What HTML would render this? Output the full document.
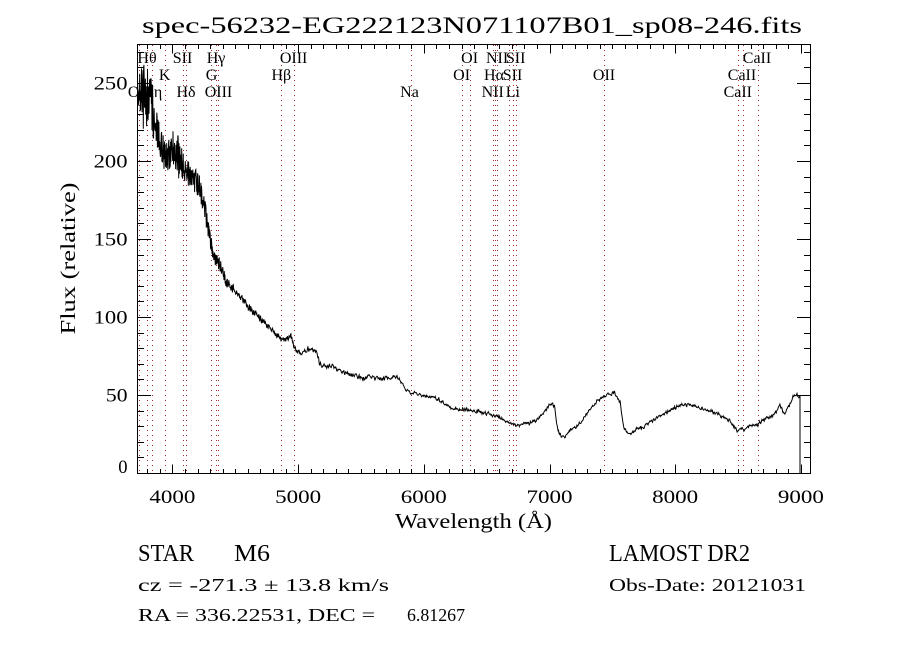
<!DOCTYPE html>
<html>
<head>
<meta charset="utf-8">
<style>
html,body{margin:0;padding:0;background:#fff;}
svg{display:block;}
text{font-family:"Liberation Serif",serif;fill:#000;}
</style>
</head>
<body>
<svg id="s" width="900" height="650" viewBox="0 0 900 650" xmlns="http://www.w3.org/2000/svg">
<defs><clipPath id="pc"><rect x="137" y="44" width="674" height="430"/></clipPath></defs>
<rect width="900" height="650" fill="#fff"/>
<g id="dots" stroke="#a52a2a" stroke-width="1" stroke-dasharray="1 4" shape-rendering="crispEdges"></g>
<g clip-path="url(#pc)"><path id="spec" fill="none" stroke="#000" stroke-width="1" d="M137 97L150 97L162 150L180 168L200 190L214 258L226 282L284 340L294 345L318 352L322 365L400 378L410 392L460 410L515 425L553 405L559 433L571 430L614 393L624 428L630 435L690 404L738 431L762 421L797 395L800 473"/></g>
<g id="ticks" stroke="#000" stroke-width="1" shape-rendering="crispEdges" fill="none"></g>
<rect x="137.5" y="44.5" width="673" height="429" fill="none" stroke="#000" stroke-width="1" shape-rendering="crispEdges"/>

<text x="472" y="33" font-size="23.5" text-anchor="middle" textLength="660" lengthAdjust="spacingAndGlyphs">spec-56232-EG222123N071107B01_sp08-246.fits</text>

<g font-size="16" text-anchor="middle">
<text x="147" y="63">Hθ</text>
<text x="182.5" y="63">SII</text>
<text x="216" y="63">Hγ</text>
<text x="293.6" y="63">OIII</text>
<text x="469.6" y="63">OI</text>
<text x="497.1" y="63">NII</text>
<text x="515.7" y="63">SII</text>
<text x="757" y="63">CaII</text>

<text x="164.6" y="80">K</text>
<text x="211.5" y="80">G</text>
<text x="281.3" y="80">Hβ</text>
<text x="461.6" y="80">OI</text>
<text x="494" y="80">Hα</text>
<text x="512.5" y="80">SII</text>
<text x="604" y="80">OII</text>
<text x="742" y="80">CaII</text>

<text x="139" y="97">OII</text>
<text x="152.3" y="97">Hη</text>
<text x="186" y="97">Hδ</text>
<text x="218.5" y="97">OIII</text>
<text x="409.5" y="97">Na</text>
<text x="492.7" y="97">NII</text>
<text x="512.8" y="97">Li</text>
<text x="737.8" y="97">CaII</text>
</g>

<g id="xl" font-size="19" text-anchor="middle"></g>
<g id="yl" font-size="19" text-anchor="end"></g>

<text x="473.5" y="528" font-size="21" text-anchor="middle" textLength="157" lengthAdjust="spacingAndGlyphs">Wavelength (Å)</text>
<text transform="translate(75,258.5) rotate(-90)" font-size="21" text-anchor="middle" textLength="152" lengthAdjust="spacingAndGlyphs">Flux (relative)</text>

<text x="138" y="561" font-size="24" textLength="56" lengthAdjust="spacingAndGlyphs">STAR</text>
<text x="234" y="561" font-size="24" textLength="36" lengthAdjust="spacingAndGlyphs">M6</text>
<text x="609" y="561" font-size="24" textLength="141" lengthAdjust="spacingAndGlyphs">LAMOST DR2</text>
<text x="138" y="591" font-size="18" textLength="251" lengthAdjust="spacingAndGlyphs">cz = -271.3 ± 13.8 km/s</text>
<text x="609" y="591" font-size="18" textLength="197" lengthAdjust="spacingAndGlyphs">Obs-Date: 20121031</text>
<text x="138" y="621" font-size="18" textLength="237" lengthAdjust="spacingAndGlyphs">RA = 336.22531, DEC =</text>
<text x="407" y="621" font-size="18" textLength="58" lengthAdjust="spacingAndGlyphs">6.81267</text>
</svg>
<script>
(function(){
var NS="http://www.w3.org/2000/svg";
function X(l){return 172.4+(l-4000)*0.1257;}
function Y(v){return 473-1.56*v;}
var dx=[138.9,147,152.3,164.6,182.5,185.6,211,215.6,218.4,281.3,293.6,410.6,461.6,469.6,492.7,494.6,497.1,508.5,512.8,515.7,604,737.8,743.3,758.4];
var g=document.getElementById("dots");
var dd="";
for(var i=0;i<dx.length;i++){var x=Math.round(dx[i])+0.5;dd+="M"+x+" 45V473";}
var p=document.createElementNS(NS,"path");p.setAttribute("d",dd);g.appendChild(p);
var d="";
for(var l=3800;l<=9000;l+=100){
  var x=Math.round(X(l))+0.5; var len=(l%1000===0)?9:4.5;
  d+="M"+x+" 473.5V"+(473.5-len)+"M"+x+" 44.5V"+(44.5+len);
}
for(var v=0;v<=270;v+=10){
  var y=Math.round(Y(v))+0.5; var len2=(v%50===0)?13.5:6.7;
  d+="M137.5 "+y+"H"+(137.5+len2)+"M810.5 "+y+"H"+(810.5-len2);
}
var tp=document.createElementNS(NS,"path");tp.setAttribute("d",d);document.getElementById("ticks").appendChild(tp);
var xl=document.getElementById("xl");
for(var l2=4000;l2<=9000;l2+=1000){
  var t=document.createElementNS(NS,"text");
  t.setAttribute("x",X(l2).toFixed(1));t.setAttribute("y","503");
  t.setAttribute("textLength","46");t.setAttribute("lengthAdjust","spacingAndGlyphs");
  t.textContent=String(l2);xl.appendChild(t);
}
var yl=document.getElementById("yl");
for(var v2=0;v2<=250;v2+=50){
  var t2=document.createElementNS(NS,"text");
  var s=String(v2);
  t2.setAttribute("x","127.5");
  t2.setAttribute("y",(v2===0?473:(Y(v2)+6.5)).toFixed(1));
  t2.setAttribute("textLength",String(s.length*12.3-3));t2.setAttribute("lengthAdjust","spacingAndGlyphs");
  t2.textContent=s;yl.appendChild(t2);
}
var A=[[137,97],[149,97],[155,120],[162,148],[168,156],[172,152],[176,150],[180,162],[188,172],[195,180],[200,188],[205,210],[210,240],[214,258],[218,262],[222,268],[226,282],[232,287],[236,292],[240,298],[245,303],[250,308],[255,313],[260,318],[265,323],[270,328],[275,334],[280,338],[284,340],[288,338],[291,336],[294,345],[298,352],[302,352],[306,350],[310,349],[314,350],[317,352],[319,362],[322,365],[326,366],[330,366],[335,368],[340,372],[345,373],[350,374],[355,376],[360,377],[365,378],[370,377],[375,378],[380,379],[385,378],[390,378],[395,376],[399,378],[402,384],[406,390],[410,392],[415,393],[420,395],[425,396],[430,397],[435,397],[440,400],[445,404],[450,407],[455,409],[460,410],[465,410],[470,410],[475,411],[480,412],[485,413],[490,414],[495,416],[500,418],[505,420],[510,423],[515,425],[520,425],[525,424],[530,423],[535,421],[540,417],[545,410],[548,407],[551,405],[553,405],[555,408],[557,425],[559,433],[562,436],[565,436],[568,433],[571,430],[575,428],[580,423],[585,416],[590,410],[595,403],[600,399],[605,396],[610,394],[614,393],[617,396],[620,402],[622,415],[624,428],[627,433],[630,435],[635,430],[640,428],[645,427],[650,422],[655,419],[660,416],[665,413],[670,411],[675,408],[680,406],[685,405],[690,404],[695,406],[700,408],[705,409],[710,411],[715,413],[720,415],[725,418],[730,421],[735,427],[738,431],[741,428],[744,431],[747,428],[752,426],[757,425],[762,421],[767,418],[772,416],[776,412],[780,405],[784,414],[787,410],[790,403],[794,396],[797,395],[799.5,397]];
var AM=[[137,35],[150,30],[156,24],[165,20],[178,22],[185,14],[200,12],[212,8],[230,5],[300,3.5],[400,2.4],[800,2.2]];
function interp(T,x){
  if(x<=T[0][0])return T[0][1];
  for(var k=1;k<T.length;k++){ if(x<=T[k][0]){var a=T[k-1],b=T[k];return a[1]+(b[1]-a[1])*(x-a[0])/(b[0]-a[0]);} }
  return T[T.length-1][1];
}
function mulberry32(a){return function(){a|=0;a=a+0x6D2B79F5|0;var t=Math.imul(a^a>>>15,1|a);t=t+Math.imul(t^t>>>7,61|t)^t;return((t^t>>>14)>>>0)/4294967296;};}
var r=mulberry32(20121031);
var pts=[];var prev=0;
for(var x=137;x<=799.5;x+=(x<300?0.3:0.45)){
  var base=interp(A,x), am=interp(AM,x);
  var n=(r()*2-1);
  var c=0.45*prev+0.55*n; prev=n;
  var y=base+am*(x<230?n:c);
  pts.push(x.toFixed(2)+" "+y.toFixed(1));
}
pts.push("800 396");pts.push("800 473.5");
document.getElementById("spec").setAttribute("d","M"+pts.join("L"));
})();
</script>
</body>
</html>
